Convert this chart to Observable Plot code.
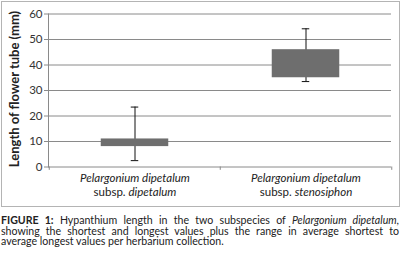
<!DOCTYPE html>
<html><head><meta charset="utf-8">
<script src="https://cdn.jsdelivr.net/npm/d3@7"></script>
<script src="https://cdn.jsdelivr.net/npm/@observablehq/plot@0.6"></script>
<style>
body{margin:0;background:#fff;}
#wrap{position:relative;width:403px;height:255px;overflow:hidden;}
#box{position:absolute;left:1px;top:1px;width:397px;height:204px;border:1px solid #b4b4b4;}
#chart{position:absolute;left:0;top:0;}
#cap{position:absolute;left:1px;top:215px;width:398px;font-family:Lato,sans-serif;font-size:10.6px;line-height:10.5px;color:#222;}
#cap div{text-align:justify;white-space:nowrap;height:10.5px;}
#cap div.j{text-align-last:justify;}
</style></head>
<body>
<div id="wrap"><div id="box"></div><div id="chart"></div>
<div id="cap">
<div class="j"><b>FIGURE 1:</b> Hypanthium length in the two subspecies of <i>Pelargonium dipetalum</i>,</div>
<div class="j">showing the shortest and longest values plus the range in average shortest to</div>
<div>average longest values per herbarium collection.</div>
</div>
</div>
<script>
const subspecies = ["dipetalum", "stenosiphon"];
const shortest = [2.5, 33.5];
const longest = [23.5, 54.2];
const avgShortest = [8, 35];
const avgLongest = [11, 46];
const yTicks = [0, 10, 20, 30, 40, 50, 60];

const data = subspecies.map((s, i) => ({s, min: shortest[i], max: longest[i], q1: avgShortest[i], q3: avgLongest[i]}));
const W = 403, ML = 48, MR = 12;
const band = (W - ML - MR) / subspecies.length;
const boxInset = (band - 68) / 2;
const capInset = (band - 8) / 2;

const plot = Plot.plot({
  width: W, height: 205,
  marginLeft: ML, marginRight: MR, marginTop: 13.5, marginBottom: 38.5,
  style: {fontFamily: "Lato, sans-serif", fontSize: "11px", color: "#333", background: "transparent"},
  x: {domain: subspecies, padding: 0, label: null},
  y: {domain: [0, 60], ticks: yTicks, label: null},
  marks: [
    Plot.gridY(yTicks, {stroke: "#8a8a8a", strokeOpacity: 1, strokeWidth: 1}),
    Plot.frame({anchor: "left", stroke: "#8a8a8a"}),
    Plot.ruleX(subspecies, {x: d => d, dx: -band / 2, y1: 0, y2: -1.3, stroke: "#8a8a8a"}),
    Plot.ruleX(subspecies.slice(-1), {x: d => d, dx: band / 2, y1: 0, y2: -1.3, stroke: "#8a8a8a"}),
    Plot.axisY(yTicks, {tickSize: 4, tickPadding: 2, stroke: "#8a8a8a", fill: "#333", fontSize: 11.5}),
    Plot.axisX({tickSize: 0, tickPadding: 5, fontStyle: "italic", fontSize: 11.5, fill: "#222",
      tickFormat: d => `Pelargonium dipetalum\nsubsp. ${d}`, lineHeight: 1.22}),
    Plot.ruleX(data, {x: "s", y1: "min", y2: "max", stroke: "#111", strokeWidth: 1}),
    Plot.tickY(data, {x: "s", y: "min", stroke: "#111", insetLeft: capInset, insetRight: capInset}),
    Plot.tickY(data, {x: "s", y: "max", stroke: "#111", insetLeft: capInset, insetRight: capInset}),
    Plot.barY(data, {x: "s", y1: "q1", y2: "q3", fill: "#6e6e6e", insetLeft: boxInset, insetRight: boxInset})
  ]
});
document.getElementById("chart").appendChild(plot);

// "subsp." upright, epithet italic
d3.select(plot).selectAll("[aria-label='x-axis tick label'] text").each(function() {
  const tspans = d3.select(this).selectAll("tspan").nodes();
  if (tspans.length < 2) return;
  const t = d3.select(tspans[1]);
  const txt = t.text();
  const m = txt.match(/^(subsp\. )(.*)$/);
  if (!m) return;
  t.text(null);
  t.append("tspan").attr("font-style", "normal").text(m[1]);
  t.append("tspan").attr("font-style", "italic").text(m[2]);
});

// y-axis title
d3.select(plot).append("text")
  .attr("transform", `translate(19,${(13.5 + 166.5) / 2 - 1}) rotate(-90)`)
  .attr("text-anchor", "middle")
  .attr("font-family", "Lato, sans-serif")
  .attr("font-weight", "bold")
  .attr("font-size", 13)
  .attr("fill", "#222")
  .text("Length of flower tube (mm)");
</script>
</body></html>
